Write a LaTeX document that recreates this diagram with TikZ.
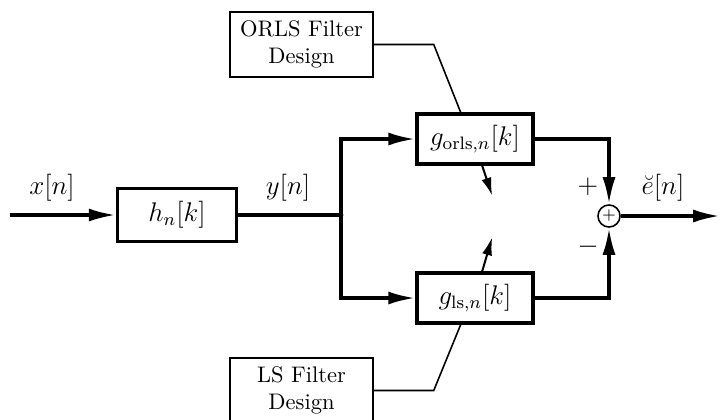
\documentclass[tikz,border=0pt]{standalone}
\usepackage{amsmath,amssymb}
\usepackage{tikz}
\usetikzlibrary{positioning,calc,arrows.meta}

\begin{document}
\begin{tikzpicture}[x=0.4444pt, y=-0.4444pt,
    filt block/.style={draw, rectangle, line width=1.5pt, minimum width=51.6pt, minimum height=22.2pt, align=center, font=\large},
    design block/.style={draw, rectangle, line width=0.6pt, minimum width=63.6pt, minimum height=28.9pt, align=center},
    sig/.style={line width=1.5pt, -{Latex[length=12pt,width=5.8pt]}},
    adapt/.style={line width=0.9pt, -{Latex[length=8pt,width=4.5pt]}},
    tune/.style={line width=0.7pt},
    lbl/.style={font=\large, inner sep=1pt}]
    \useasboundingbox (0,0) rectangle (720,419);

    \coordinate (in) at (10,215);
    \node[filt block, minimum width=52.9pt, minimum height=23.6pt] (h) at (177,215) {$h_n[k]$};
    \coordinate (split) at (341,215);

    \node[filt block] (gorls) at (475,139) {$g_{\text{orls},n}[k]$};
    \node[filt block] (gls) at (475,298) {$g_{\text{ls},n}[k]$};
    \node[draw, circle, line width=0.7pt, minimum size=9.8pt, inner sep=0pt] (sum) at (609,216) {\scriptsize$+$};
    \coordinate (out) at (720,216);

    \node[design block] (orls) at (301.5,44.5) {ORLS Filter \\ Design};
    \node[design block] (ls) at (301.5,390.5) {LS Filter \\ Design};

    % signal path
    \draw[sig] (in) -- (h);
    \draw[line width=1.5pt] (h) -- (split);
    \fill (split) circle (2.4);
    \draw[sig] (split) |- (gorls.west);
    \draw[sig] (split) |- (gls.west);
    \draw[sig] (gorls.east) -| (sum.north);
    \draw[sig] (gls.east) -| (sum.south);
    \draw[sig] (sum) -- (out);

    % filter design inputs
    \draw[tune] (orls.east) -- ++(60,0) -- ($(gorls.north west)!0.38!(gorls.north east)$);
    \draw[tune] (ls.east) -- ++(60,0) -- ($(gls.south west)!0.38!(gls.south east)$);

    % adaptation arrows
    \draw[adapt] ($(gorls.south west)!0.56!(gorls.south east)$) -- ++(10,30);
    \draw[adapt] ($(gls.north west)!0.56!(gls.north east)$) -- ++(10,-34);

    % labels
    \node[lbl] (xlab) at (52,188) {$x[n]$};
    \node[lbl] (ylab) at (288,188) {$y[n]$};
    \node[lbl] (plus) at (588,187) {$+$};
    \node[lbl] (minus) at (588,247) {$-$};
    \node[lbl] (elab) at (663,188) {$\breve{e}[n]$};
\end{tikzpicture}
\end{document}
